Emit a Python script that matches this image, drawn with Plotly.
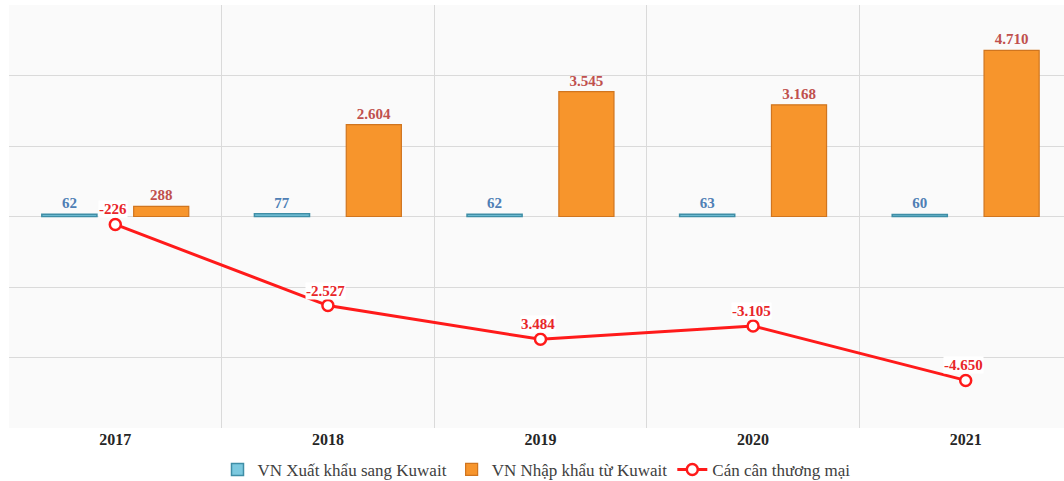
import plotly.graph_objects as go

years = ["2017", "2018", "2019", "2020", "2021"]
exports = [62, 77, 62, 63, 60]
imports = [288, 2604, 3545, 3168, 4710]
balance = [-226, -2527, -3484, -3105, -4650]
balance_labels = ["-226", "-2.527", "3.484", "-3.105", "-4.650"]

name_exp = "VN Xuất khẩu sang Kuwait"
name_imp = "VN Nhập khẩu từ Kuwait"
name_bal = "Cán cân thương mại"

SERIF = "Liberation Serif, Times New Roman, serif"

fig = go.Figure()
fig.add_trace(go.Bar(
    x=years, y=exports, name=name_exp,
    marker=dict(color="#7cc9df", line=dict(color="#3f8ea6", width=1.5)),
    texttemplate="%{y:,}", textposition="outside", constraintext="none",
    textfont=dict(family=SERIF, size=15, color="#4f7fb5", weight="bold"),
    cliponaxis=False,
))
fig.add_trace(go.Bar(
    x=years, y=imports, name=name_imp,
    marker=dict(color="#f7952c", line=dict(color="#d0751f", width=1.2)),
    texttemplate="%{y:,}", textposition="outside", constraintext="none",
    textfont=dict(family=SERIF, size=15, color="#c0504d", weight="bold"),
    cliponaxis=False,
))
fig.add_trace(go.Scatter(
    x=years, y=balance, name=name_bal, mode="lines+markers",
    line=dict(color="#ff1a1a", width=3),
    marker=dict(symbol="circle", size=11, color="white",
                line=dict(color="#ff1a1a", width=2.5)),
    cliponaxis=False,
))

for i, (v, lab) in enumerate(zip(balance, balance_labels)):
    fig.add_annotation(
        x=i, y=v, xref="x", yref="y", text="<b>" + lab + "</b>", showarrow=False,
        yshift=15, xshift=-2, bgcolor="white", borderpad=0,
        font=dict(family=SERIF, size=15, color="#e8262a"),
    )

fig.update_layout(
    width=1064, height=481,
    margin=dict(l=9, r=0, t=5, b=53, autoexpand=False),
    paper_bgcolor="white", plot_bgcolor="#fafafa",
    barmode="group", bargap=0.136, bargroupgap=0.40,
    separators=",.",
    showlegend=True,
    legend=dict(orientation="h", x=0.5, xanchor="center", y=-0.099, yanchor="middle",
                font=dict(family=SERIF, size=17, color="#404040"),
                itemwidth=30, tracegroupgap=0),
    font=dict(family=SERIF),
)
fig.update_xaxes(
    type="category", range=[-0.5, 4.5 - 8 / 213], tickson="boundaries",
    showgrid=True, gridcolor="#dadada", gridwidth=1,
    ticks="outside", ticklen=8, tickcolor="rgba(0,0,0,0)", showline=False,
    tickfont=dict(family=SERIF, size=16, color="#262626", weight="bold"),
)
fig.update_yaxes(
    range=[-6000, 6000], dtick=2000, showticklabels=False,
    showgrid=True, gridcolor="#dadada", gridwidth=1,
    zeroline=True, zerolinecolor="#dadada", zerolinewidth=1,
)

fig.write_html("out.html", config={"displayModeBar": False},
               post_script="document.body.style.margin='0';document.body.style.overflow='hidden';")
